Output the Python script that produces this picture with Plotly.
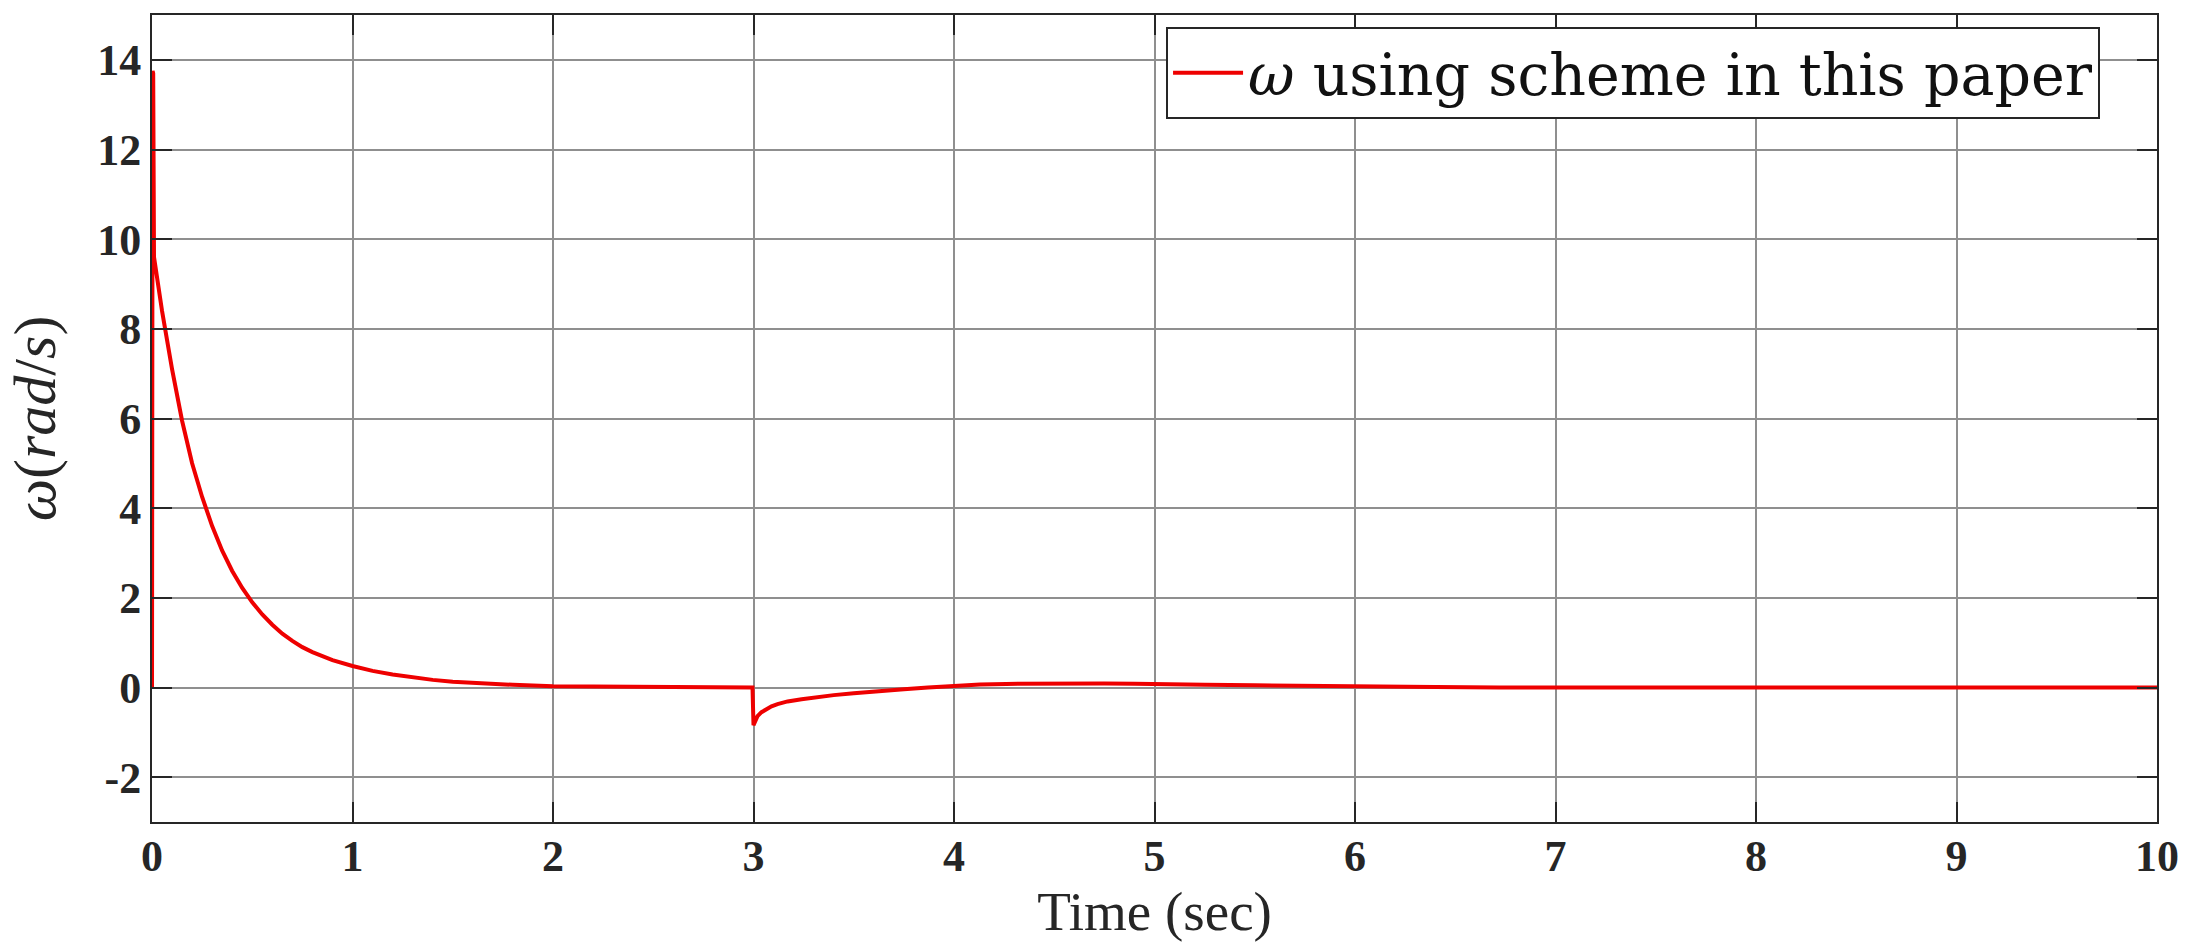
import plotly.graph_objects as go

# Time samples (s) and angular velocity (rad/s)
t_sec = [0.0, 0.003, 0.006, 0.010, 0.020, 0.05, 0.10, 0.15, 0.20, 0.25, 0.30,
         0.35, 0.40, 0.45, 0.50, 0.55, 0.60, 0.65, 0.70, 0.75, 0.80, 0.90,
         1.00, 1.10, 1.20, 1.30, 1.40, 1.50, 1.60, 1.80, 2.00, 2.50, 2.995,
         3.00, 3.01, 3.02, 3.04, 3.064, 3.09, 3.12, 3.17, 3.24, 3.32, 3.40,
         3.50, 3.62, 3.75, 3.87, 4.00, 4.13, 4.26, 4.45, 4.60, 4.75, 4.90,
         5.00, 5.25, 5.50, 5.75, 6.00, 6.20, 6.40, 6.72, 7.50, 8.50, 9.50,
         10.0]
omega = [0.0, 13.75, 13.7, 9.6, 9.3, 8.4, 7.1, 5.95, 5.0, 4.25, 3.6,
         3.05, 2.6, 2.22, 1.9, 1.63, 1.4, 1.2, 1.04, 0.9, 0.79, 0.61,
         0.48, 0.37, 0.29, 0.22, 0.17, 0.13, 0.1, 0.06, 0.03, 0.01, 0.0,
         -0.84, -0.72, -0.64, -0.55, -0.48, -0.42, -0.37, -0.31, -0.26, -0.21, -0.17,
         -0.13, -0.08, -0.04, 0.0, 0.04, 0.065, 0.08, 0.09, 0.09, 0.09, 0.085,
         0.075, 0.06, 0.05, 0.035, 0.02, 0.015, 0.01, 0.0, 0.0, 0.0, 0.0,
         0.0]

x_ticks = [0, 1, 2, 3, 4, 5, 6, 7, 8, 9, 10]
y_ticks = [-2, 0, 2, 4, 6, 8, 10, 12, 14]
y_tick_text = ["-2", "0", "2", "4", "6", "8", "10", "12", "14"]
series_name = "<i>ω</i> using scheme in this paper"

fig = go.Figure()
fig.add_trace(go.Scatter(
    x=t_sec, y=omega, mode="lines", name=series_name,
    line=dict(color="#ee0000", width=4),
    showlegend=True,
))

axis_common = dict(
    showline=True, linecolor="#262626", linewidth=2, mirror="ticks",
    ticks="inside", ticklen=20, tickwidth=2, tickcolor="#262626",
    showgrid=True, gridcolor="#8f8f8f", gridwidth=1.5,
    zeroline=False, automargin=False,
    tickfont=dict(family="Liberation Serif", size=44, color="#262626", weight="bold"),
)

fig.update_xaxes(
    range=[0, 10], tickvals=x_ticks, ticklabelstandoff=-6,
    title=dict(text="Time (sec)", font=dict(family="Liberation Serif", size=55, color="#262626"),
               standoff=6),
    **axis_common,
)
fig.update_yaxes(
    range=[-3, 15], tickvals=y_ticks, ticktext=y_tick_text,
    title=dict(text="<i>ω</i>(<i>rad</i>/<i>s</i>)",
               font=dict(family="Liberation Serif", size=60, color="#262626"),
               standoff=22),
    **axis_common,
)

fig.update_layout(
    width=2190, height=947,
    margin=dict(l=152, r=33, t=15, b=125),
    paper_bgcolor="white", plot_bgcolor="white",
    legend=dict(
        x=0.9716, y=0.985, xanchor="right", yanchor="top",
        bgcolor="white", bordercolor="#262626", borderwidth=2,
        font=dict(family="DejaVu Serif", size=57, color="#111111"),
        itemwidth=70,
    ),
)

fig.write_html("out.html", config={"displayModeBar": False},
               post_script="document.body.style.margin='0px';")
